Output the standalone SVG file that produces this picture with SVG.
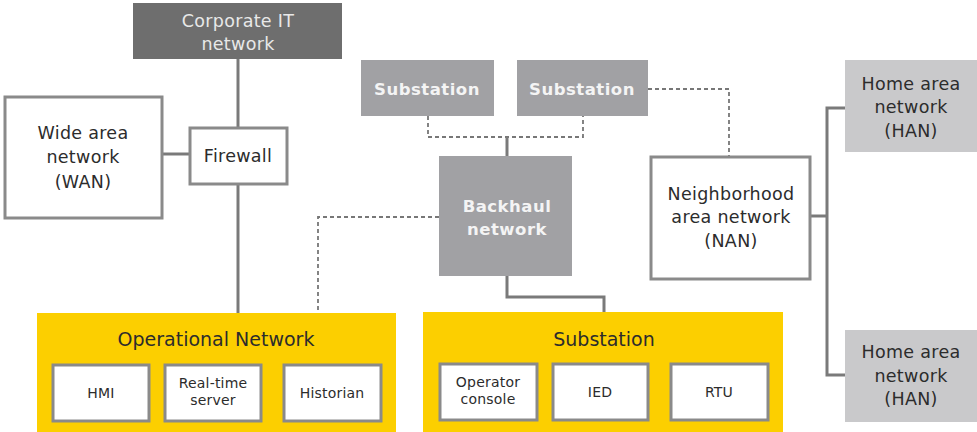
<svg xmlns="http://www.w3.org/2000/svg" width="977" height="432" viewBox="0 0 977 432">
  <style>
    text { font-family: "DejaVu Sans", "Liberation Sans", sans-serif; text-anchor: middle; }
    .lbl { font-size: 17.5px; fill: #2c2c2c; letter-spacing: 0.3px; }
    .sm { font-size: 14px; fill: #2c2c2c; letter-spacing: 0.2px; }
    .title { font-size: 19px; fill: #2c2c2c; }
    .inv { font-size: 17.5px; fill: #e8e8e8; letter-spacing: 0.3px; }
    .invb { font-size: 16.5px; fill: #f4f4f4; font-weight: bold; letter-spacing: 0.5px; }
    .white { fill: #ffffff; stroke: #8a8a8a; stroke-width: 3; }
    .dark { fill: #6e6e6e; }
    .mid { fill: #a1a1a4; }
    .light { fill: #c9c9cb; }
    .zone { fill: #fccf00; }
    .solid { fill: none; stroke: #7a7a7a; stroke-width: 3; }
    .dash { fill: none; stroke: #777777; stroke-width: 1.8; stroke-dasharray: 4 3; }
  </style>

  <!-- connectors -->
  <g id="connectors">
    <path class="solid" d="M238 59 V128"/>
    <path class="solid" d="M238 184 V313"/>
    <path class="solid" d="M162 154 H190"/>
    <path class="dash" d="M428 116 V137 H583 V116"/>
    <path class="solid" d="M507 137 V156"/>
    <path class="dash" d="M439 217 H318 V313"/>
    <path class="solid" d="M507 276 V297 H604 V313"/>
    <path class="dash" d="M648 89 H729 V157"/>
    <path class="solid" d="M810 216 H827"/>
    <path class="solid" d="M845 108 H827 V375 H845"/>
  </g>

  <g id="corporate-it">
    <rect class="dark" x="133" y="3" width="209" height="56"/>
    <text class="inv" x="238" y="27">Corporate IT</text>
    <text class="inv" x="238" y="50">network</text>
  </g>

  <g id="wan">
    <rect class="white" x="5" y="97" width="157" height="121"/>
    <text class="lbl" x="83" y="139">Wide area</text>
    <text class="lbl" x="83" y="163">network</text>
    <text class="lbl" x="83" y="188">(WAN)</text>
  </g>

  <g id="firewall">
    <rect class="white" x="190" y="128" width="97" height="56"/>
    <text class="lbl" x="238" y="162">Firewall</text>
  </g>

  <g id="substation-1">
    <rect class="mid" x="361" y="60" width="133" height="56"/>
    <text class="invb" x="427" y="95">Substation</text>
  </g>

  <g id="substation-2">
    <rect class="mid" x="517" y="60" width="131" height="56"/>
    <text class="invb" x="582" y="95">Substation</text>
  </g>

  <g id="backhaul">
    <rect class="mid" x="439" y="156" width="133" height="120"/>
    <text class="invb" x="507" y="212">Backhaul</text>
    <text class="invb" x="507" y="235">network</text>
  </g>

  <g id="nan">
    <rect class="white" x="651" y="157" width="159" height="122"/>
    <text class="lbl" x="731" y="200">Neighborhood</text>
    <text class="lbl" x="731" y="223">area network</text>
    <text class="lbl" x="731" y="247">(NAN)</text>
  </g>

  <g id="han-1">
    <rect class="light" x="845" y="60" width="132" height="92"/>
    <text class="lbl" x="911" y="90">Home area</text>
    <text class="lbl" x="911" y="113">network</text>
    <text class="lbl" x="911" y="137">(HAN)</text>
  </g>

  <g id="han-2">
    <rect class="light" x="845" y="330" width="132" height="92"/>
    <text class="lbl" x="911" y="358">Home area</text>
    <text class="lbl" x="911" y="382">network</text>
    <text class="lbl" x="911" y="405">(HAN)</text>
  </g>

  <g id="operational-network">
    <rect class="zone" x="37" y="313" width="359" height="119"/>
    <text class="title" x="216" y="346">Operational Network</text>
    <g id="hmi">
      <rect class="white" x="53" y="365" width="96" height="56"/>
      <text class="sm" x="101" y="398">HMI</text>
    </g>
    <g id="real-time-server">
      <rect class="white" x="165" y="365" width="96" height="56"/>
      <text class="sm" x="213" y="388">Real-time</text>
      <text class="sm" x="213" y="405">server</text>
    </g>
    <g id="historian">
      <rect class="white" x="284" y="365" width="97" height="56"/>
      <text class="sm" x="332" y="398">Historian</text>
    </g>
  </g>

  <g id="substation-zone">
    <rect class="zone" x="423" y="312" width="360" height="120"/>
    <text class="title" x="604" y="346">Substation</text>
    <g id="operator-console">
      <rect class="white" x="440" y="364" width="97" height="56"/>
      <text class="sm" x="488" y="387">Operator</text>
      <text class="sm" x="488" y="404">console</text>
    </g>
    <g id="ied">
      <rect class="white" x="553" y="364" width="95" height="56"/>
      <text class="sm" x="600" y="397">IED</text>
    </g>
    <g id="rtu">
      <rect class="white" x="671" y="364" width="97" height="56"/>
      <text class="sm" x="719" y="397">RTU</text>
    </g>
  </g>
</svg>
